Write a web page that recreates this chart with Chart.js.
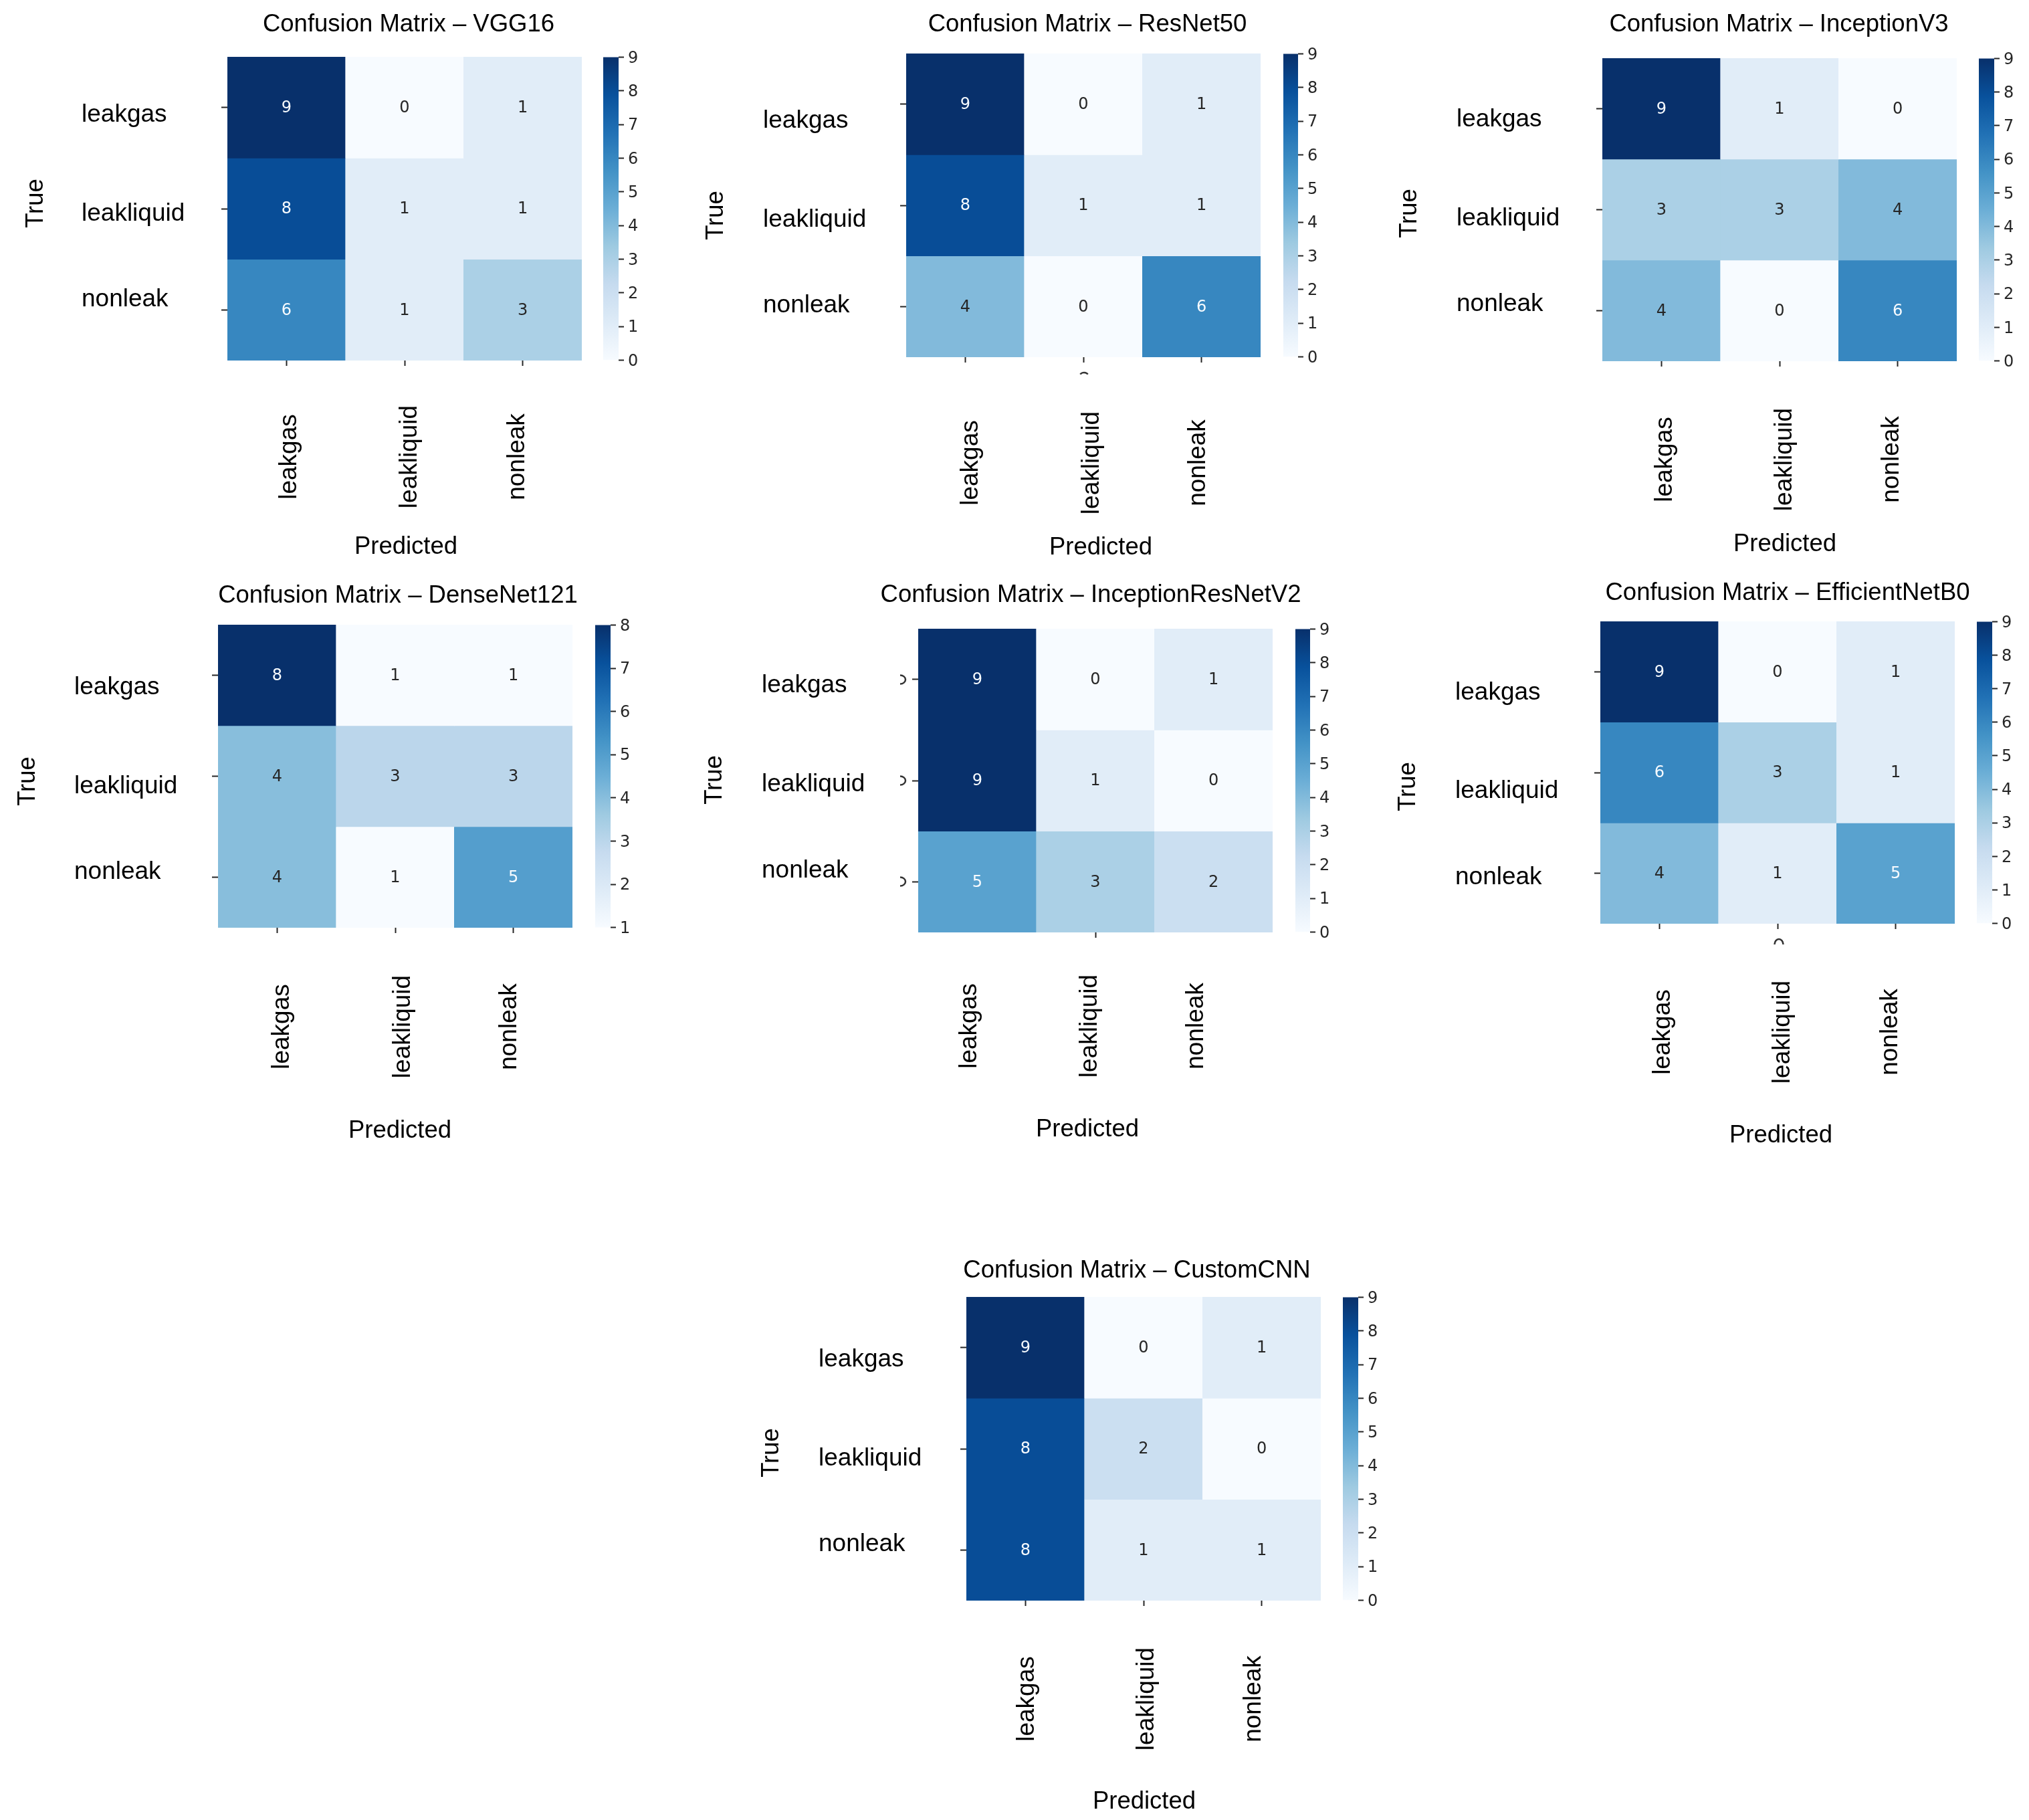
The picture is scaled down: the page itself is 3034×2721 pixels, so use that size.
<!DOCTYPE html>
<html>
<head>
  <title>Confusion Matrices</title>
  <script src="https://cdn.jsdelivr.net/npm/chart.js"></script>
  <style>
    html, body { margin: 0; background: #fff; }
    body { position: relative; width: 3034px; height: 2721px; overflow: hidden; }
    canvas { position: absolute; }
  </style>
</head>
<body>
  <script>
    const classNames = ['leakgas', 'leakliquid', 'nonleak'];
    const modelNames = ['VGG16', 'ResNet50', 'InceptionV3', 'DenseNet121', 'InceptionResNetV2', 'EfficientNetB0', 'CustomCNN'];

    const vgg16 = [[9, 0, 1], [8, 1, 1], [6, 1, 3]];
    const resnet50 = [[9, 0, 1], [8, 1, 1], [4, 0, 6]];
    const inceptionV3 = [[9, 1, 0], [3, 3, 4], [4, 0, 6]];
    const denseNet121 = [[8, 1, 1], [4, 3, 3], [4, 1, 5]];
    const inceptionResNetV2 = [[9, 0, 1], [9, 1, 0], [5, 3, 2]];
    const efficientNetB0 = [[9, 0, 1], [6, 3, 1], [4, 1, 5]];
    const customCNN = [[9, 0, 1], [8, 2, 0], [8, 1, 1]];
    const matrices = [vgg16, resnet50, inceptionV3, denseNet121, inceptionResNetV2, efficientNetB0, customCNN];

    // matplotlib "Blues"
    const blues = ['#f7fbff', '#deebf7', '#c6dbef', '#9ecae1', '#6baed6', '#4292c6', '#2171b5', '#08519c', '#08306b'];

    // the panels were pasted together by hand in the source figure, so every one sits a bit differently
    // stubs: cut off remains of the old tick labels, [x, y, rx, ry, startDeg, endDeg]
    const layouts = [
      { plot: [340, 85, 870, 539], bar: [902, 925], title: [611, 37], yTitle: [54, 304], xTitle: [607, 818], xLabelX: [433, 613, 774], xLabelY: 683, yLabelX: 122, yLabelY: [172, 320, 448] },
      { plot: [1355, 80, 1885, 534], bar: [1919, 1941], title: [1626, 37], yTitle: [1071, 322], xTitle: [1646, 819], xLabelX: [1452, 1633, 1792], xLabelY: 692, yLabelX: 1141, yLabelY: [181, 329, 457], stubs: [[1621, 561, 6, 4, 200, 340]] },
      { plot: [2396, 87, 2926, 540], bar: [2959, 2982], title: [2660, 37], yTitle: [2108, 319], xTitle: [2669, 814], xLabelX: [2490, 2669, 2829], xLabelY: 687, yLabelX: 2178, yLabelY: [179, 327, 455] },
      { plot: [326, 934, 856, 1387], bar: [890, 913], title: [595, 891], yTitle: [42, 1168], xTitle: [598, 1691], xLabelX: [422, 603, 762], xLabelY: 1535, yLabelX: 111, yLabelY: [1028, 1176, 1304] },
      { plot: [1373, 940, 1903, 1394], bar: [1937, 1959], title: [1631, 890], yTitle: [1069, 1166], xTitle: [1626, 1689], xLabelX: [1450, 1630, 1789], xLabelY: 1534, yLabelX: 1139, yLabelY: [1025, 1173, 1302], hideXTicks: [0, 2], stubs: [[1346, 1016, 8, 6.5, -90, 90], [1346, 1167, 8, 6.5, -90, 90], [1346, 1318, 8, 6.5, -90, 90]] },
      { plot: [2393, 929, 2923, 1381], bar: [2956, 2979], title: [2673, 887], yTitle: [2106, 1176], xTitle: [2663, 1698], xLabelX: [2487, 2666, 2827], xLabelY: 1543, yLabelX: 2176, yLabelY: [1036, 1183, 1312], stubs: [[2660, 1412, 6.5, 8, 180, 360]] },
      { plot: [1445, 1939, 1975, 2393], bar: [2008, 2031], title: [1700, 1900], yTitle: [1154, 2172], xTitle: [1711, 2694], xLabelX: [1536, 1715, 1875], xLabelY: 2540, yLabelX: 1224, yLabelY: [2033, 2181, 2309] }
    ];

    const tickFont = { family: "'Liberation Sans', Arial, sans-serif", size: 37 };
    const titleFont = { family: "'Liberation Sans', Arial, sans-serif", size: 36.5 };
    const smallFont = { family: "'DejaVu Sans', sans-serif", size: 24 };
    const tickColor = '#262626';
    const titleOffset = titleFont.size * 1.2 / 2;

    Chart.defaults.animation = false;
    Chart.defaults.responsive = false;
    Chart.defaults.devicePixelRatio = 1;

    const addCanvas = (left, top, width, height) => {
      const canvas = document.createElement('canvas');
      canvas.width = width;
      canvas.height = height;
      canvas.style.left = left + 'px';
      canvas.style.top = top + 'px';
      canvas.style.width = width + 'px';
      canvas.style.height = height + 'px';
      document.body.appendChild(canvas);
      return canvas;
    };

    const hexToRgb = hex => [1, 3, 5].map(i => parseInt(hex.substr(i, 2), 16));

    const bluesColor = t => {
      const pos = Math.min(Math.max(t, 0), 1) * (blues.length - 1);
      const i = Math.min(Math.floor(pos), blues.length - 2);
      const a = hexToRgb(blues[i]);
      const b = hexToRgb(blues[i + 1]);
      const rgb = a.map((c, k) => Math.round(c + (b[k] - c) * (pos - i)));
      return `rgb(${rgb[0]},${rgb[1]},${rgb[2]})`;
    };

    // moves title, axis titles and tick labels to where they are in the figure
    const placeText = {
      id: 'placeText',
      beforeDraw(chart, args, opts) {
        const pos = opts.layout;
        const x0 = opts.left;
        const y0 = opts.top;
        const { x, y } = chart.scales;

        const title = chart.titleBlock;
        title.left = pos.title[0] - x0 - 500;
        title.right = pos.title[0] - x0 + 500;
        title.top = pos.title[1] - y0 - titleOffset;

        y.getLabelItems(chart.chartArea).forEach((item, i) => {
          item.textOffset = 0;
          item.options.textAlign = 'left';
          item.options.translation = [pos.yLabelX - x0, pos.yLabelY[i] - y0];
        });
        x.getLabelItems(chart.chartArea).forEach((item, i) => {
          item.textOffset = 0;
          item.options.textAlign = 'center';
          item.options.translation = [pos.xLabelX[i] - x0, pos.xLabelY - y0];
        });

        const shiftTitle = (scale, dx, dy) => {
          const draw = scale.drawTitle;
          scale.drawTitle = function () {
            const ctx = this.ctx;
            ctx.save();
            ctx.translate(dx, dy);
            draw.call(this);
            ctx.restore();
          };
        };
        shiftTitle(y, pos.yTitle[0] - x0 - (y.left + titleOffset), pos.yTitle[1] - y0 - (y.top + y.bottom) / 2);
        shiftTitle(x, pos.xTitle[0] - x0 - (x.left + x.right) / 2, pos.xTitle[1] - y0 - (x.bottom - titleOffset));
      },
      afterDraw(chart, args, opts) {
        const ctx = chart.ctx;
        ctx.save();
        ctx.strokeStyle = '#333';
        ctx.lineWidth = 2.5;
        (opts.layout.stubs || []).forEach(s => {
          ctx.beginPath();
          ctx.ellipse(s[0] - opts.left, s[1] - opts.top, s[2], s[3], 0, s[4] * Math.PI / 180, s[5] * Math.PI / 180);
          ctx.stroke();
        });
        ctx.restore();
      }
    };

    // the count written in each cell
    const cellText = {
      id: 'cellText',
      afterDatasetsDraw(chart, args, opts) {
        const ctx = chart.ctx;
        const mid = (opts.min + opts.max) / 2;
        ctx.save();
        ctx.font = `${smallFont.size}px ${smallFont.family}`;
        ctx.textAlign = 'center';
        ctx.textBaseline = 'middle';
        chart.data.datasets.forEach((ds, row) => {
          chart.getDatasetMeta(row).data.forEach((bar, col) => {
            const v = opts.matrix[row][col];
            const c = bar.getCenterPoint();
            ctx.fillStyle = v > mid ? '#f7fbff' : tickColor;
            ctx.fillText(String(v), c.x, c.y + 1);
          });
        });
        ctx.restore();
      }
    };

    const drawMatrix = (name, matrix, pos) => {
      const [l, t, r, b] = pos.plot;
      const flat = matrix.flat();
      const min = Math.min(...flat);
      const max = Math.max(...flat);
      const leftRoom = 320, topRoom = 70, rightRoom = 60, bottomRoom = 340;
      const left = l - leftRoom;
      const top = t - topRoom;
      const canvas = addCanvas(left, top, r - l + leftRoom + rightRoom, b - t + topRoom + bottomRoom);

      new Chart(canvas.getContext('2d'), {
        type: 'bar',
        data: {
          labels: classNames,
          datasets: matrix.map((row, i) => ({
            data: row.map(() => [i, i + 1]),
            backgroundColor: row.map(v => bluesColor((v - min) / (max - min))),
            barPercentage: 1,
            categoryPercentage: 1,
            grouped: false,
            borderWidth: 0
          }))
        },
        options: {
          layout: { padding: { top: topRoom - titleFont.size * 1.2, right: rightRoom } },
          plugins: {
            legend: { display: false },
            tooltip: { enabled: false },
            title: {
              display: true,
              text: 'Confusion Matrix – ' + name,
              color: '#000',
              font: { ...titleFont, weight: 'normal' },
              padding: 0
            },
            placeText: { layout: pos, left: left, top: top },
            cellText: { matrix: matrix, min: min, max: max }
          },
          scales: {
            x: {
              type: 'category',
              afterFit: s => { s.height = bottomRoom; },
              border: { display: false },
              grid: {
                offset: false,
                drawOnChartArea: false,
                tickLength: 8,
                tickWidth: 2,
                tickColor: c => (pos.hideXTicks || []).includes(c.index) ? 'transparent' : tickColor
              },
              ticks: { autoSkip: false, minRotation: 90, maxRotation: 90, color: '#000', font: tickFont },
              title: { display: true, text: 'Predicted', color: '#000', font: titleFont, padding: 0 }
            },
            y: {
              type: 'linear',
              reverse: true,
              min: 0,
              max: classNames.length,
              afterFit: s => { s.width = leftRoom; },
              afterBuildTicks: s => { s.ticks = classNames.map((c, i) => ({ value: i + 0.5 })); },
              border: { display: false },
              grid: { drawOnChartArea: false, tickLength: 9, tickWidth: 2, tickColor: tickColor },
              ticks: { autoSkip: false, color: '#000', font: tickFont, callback: (v, i) => classNames[i] },
              title: { display: true, text: 'True', color: '#000', font: titleFont, padding: 0 }
            }
          }
        },
        plugins: [placeText, cellText]
      });

      drawColorbar(min, max, pos);
    };

    const drawColorbar = (min, max, pos) => {
      const [barL, barR] = pos.bar;
      const t = pos.plot[1];
      const b = pos.plot[3];
      const pad = 20, axisRoom = 60;
      const canvas = addCanvas(barL, t - pad, barR - barL + axisRoom, b - t + pad * 2);
      const values = [];
      for (let v = min; v <= max; v++) values.push(v);

      new Chart(canvas.getContext('2d'), {
        type: 'bar',
        data: {
          labels: ['colorbar'],
          datasets: [{
            data: [[min, max]],
            barPercentage: 1,
            categoryPercentage: 1,
            borderWidth: 0,
            backgroundColor: c => {
              const area = c.chart.chartArea;
              if (!area) return blues[0];
              const g = c.chart.ctx.createLinearGradient(0, area.bottom, 0, area.top);
              blues.forEach((col, i) => g.addColorStop(i / (blues.length - 1), col));
              return g;
            }
          }]
        },
        options: {
          layout: { padding: { top: pad, bottom: pad } },
          plugins: { legend: { display: false }, tooltip: { enabled: false } },
          scales: {
            x: { display: false },
            y: {
              position: 'right',
              min: min,
              max: max,
              afterFit: s => { s.width = axisRoom; },
              afterBuildTicks: s => { s.ticks = values.map(v => ({ value: v })); },
              border: { display: false },
              grid: { drawOnChartArea: false, tickLength: 8, tickWidth: 2, tickColor: tickColor },
              ticks: { color: tickColor, font: smallFont, padding: 6, labelOffset: 2, autoSkip: false, callback: v => String(v) }
            }
          }
        }
      });
    };

    modelNames.forEach((name, i) => drawMatrix(name, matrices[i], layouts[i]));
  </script>
</body>
</html>
